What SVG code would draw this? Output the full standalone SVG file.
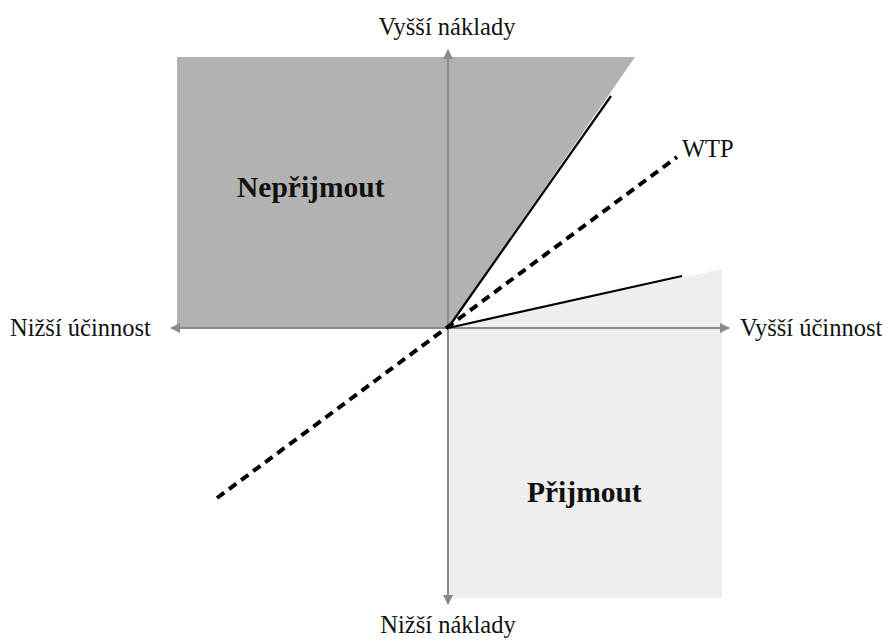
<svg xmlns="http://www.w3.org/2000/svg" width="891" height="643" viewBox="0 0 891 643">
<style>
text{font-family:"Liberation Serif","Times New Roman",serif;fill:#111}
.lbl{font-size:24.5px}
.big{font-size:29.5px;font-weight:bold}
.axis{stroke:#8a8a8a;stroke-width:2;fill:none}
.solid{stroke:#000;stroke-width:2.2;fill:none}
.dash{stroke:#000;stroke-width:4;stroke-dasharray:9 6;fill:none}
</style>
<defs>
<marker id="ah" viewBox="0 0 10 10" refX="9" refY="5" markerWidth="5" markerHeight="5" orient="auto" markerUnits="strokeWidth">
<path d="M0,0 L10,5 L0,10 z" fill="#8a8a8a"/>
</marker>
</defs>
<g id="region-reject"><polygon points="177,57 635,57 448,328 177,328" fill="#b2b2b2"/><text class="big" x="237" y="197">Nepřijmout</text></g>
<g id="region-accept"><polygon points="448,328 722,269 722,598 448,598" fill="#eeeeee"/><text class="big" x="527" y="502">Přijmout</text></g>
<g id="connectors">
<line class="axis" x1="448" y1="328" x2="448" y2="50" marker-end="url(#ah)"/>
<line class="axis" x1="448" y1="328" x2="448" y2="604" marker-end="url(#ah)"/>
<line class="axis" x1="448" y1="328" x2="171" y2="328" marker-end="url(#ah)"/>
<line class="axis" x1="448" y1="328" x2="729" y2="328" marker-end="url(#ah)"/>
<line class="solid" x1="448" y1="328" x2="611" y2="96"/>
<line class="solid" x1="448" y1="328" x2="682" y2="276"/>
<line class="dash" x1="217" y1="498" x2="677" y2="157"/>
</g>
<g id="labels">
<text class="lbl" x="447" y="35" text-anchor="middle">Vyšší náklady</text>
<text class="lbl" x="448" y="633" text-anchor="middle">Nižší náklady</text>
<text class="lbl" x="10" y="336">Nižší účinnost</text>
<text class="lbl" x="740" y="336">Vyšší účinnost</text>
<text class="lbl" x="682" y="157">WTP</text>
</g>
</svg>
